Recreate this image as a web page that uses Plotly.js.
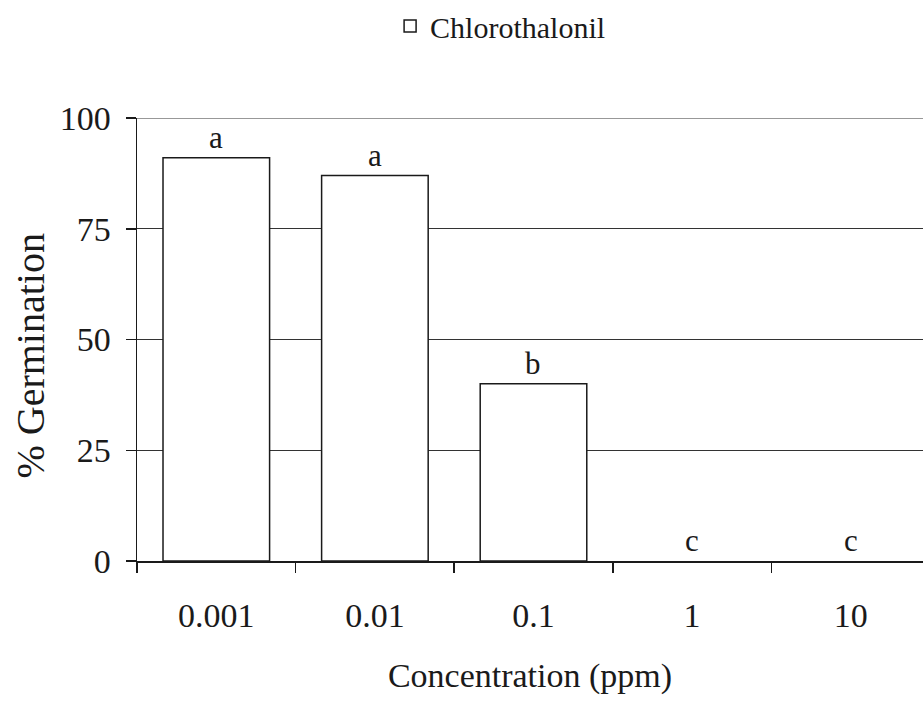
<!DOCTYPE html>
<html>
<head>
<meta charset="utf-8">
<script src="https://cdn.plot.ly/plotly-3.0.1.min.js"></script>
<style>html,body{margin:0;padding:0;background:#fff;}#chart{width:923px;height:702px;}</style>
</head>
<body>
<div id="chart"></div>
<script>
const categories = ["0.001", "0.01", "0.1", "1", "10"];
const germination = [91, 87, 40, 0, 0];
const letters = ["a", "a", "b", "c", "c"];
const seriesName = "Chlorothalonil";
const yTicks = [0, 25, 50, 75, 100];

const FONT = "Liberation Serif";
const INK = "#1a1a1a";

const trace = {
  type: "bar",
  x: categories,
  y: germination,
  name: seriesName,
  marker: { color: "#ffffff", line: { color: INK, width: germination.map(v => v > 0 ? 1.5 : 0) } },
  hoverinfo: "x+y"
};

const annotations = categories.map((c, i) => ({
  x: i, y: germination[i], xref: "x", yref: "y",
  text: letters[i], showarrow: false,
  xanchor: "center", yanchor: "bottom", yshift: 1,
  font: { family: FONT, size: 31, color: INK }
}));

annotations.push({
  xref: "paper", yref: "paper", x: -0.136, y: 0.464,
  text: "% Germination", textangle: -90, showarrow: false,
  xanchor: "center", yanchor: "middle",
  font: { family: FONT, size: 40, color: INK }
});

const layout = {
  width: 923, height: 702,
  margin: { l: 137, r: 0, t: 117, b: 141, pad: 0 },
  paper_bgcolor: "#ffffff", plot_bgcolor: "#ffffff",
  font: { family: FONT, color: INK },
  showlegend: true,
  legend: {
    orientation: "h", x: 0.322, y: 1.265, xanchor: "left", yanchor: "top",
    font: { family: FONT, size: 30, color: INK },
    bgcolor: "rgba(0,0,0,0)"
  },
  bargap: 0.328,
  xaxis: {
    type: "category",
    range: [-0.5, 4.456],
    showline: true, linecolor: INK, linewidth: 1.5,
    ticks: "outside", ticklen: 10, tickwidth: 1.5, tickcolor: INK,
    tickson: "boundaries",
    ticklabelstandoff: 24,
    showgrid: false, zeroline: false,
    tickfont: { family: FONT, size: 34, color: INK },
    title: { text: "Concentration (ppm)", font: { family: FONT, size: 34, color: INK }, standoff: 30 }
  },
  yaxis: {
    range: [0, 100],
    tickvals: yTicks,
    ticktext: yTicks.map(String),
    showline: true, linecolor: INK, linewidth: 1.5,
    ticks: "outside", ticklen: 10, tickwidth: 1.5, tickcolor: INK,
    ticklabelstandoff: 8,
    showgrid: true, gridcolor: "#333333", gridwidth: 1.2,
    zeroline: false,
    tickfont: { family: FONT, size: 34, color: INK }
  },
  shapes: [{
    type: "line", layer: "below", xref: "paper", yref: "y",
    x0: 0, x1: 1, y0: yTicks[yTicks.length - 1], y1: yTicks[yTicks.length - 1],
    line: { color: "#333333", width: 1.2 }
  }],
  annotations: annotations
};

Plotly.newPlot("chart", [trace], layout, { displayModeBar: false, staticPlot: true });
</script>
</body>
</html>
